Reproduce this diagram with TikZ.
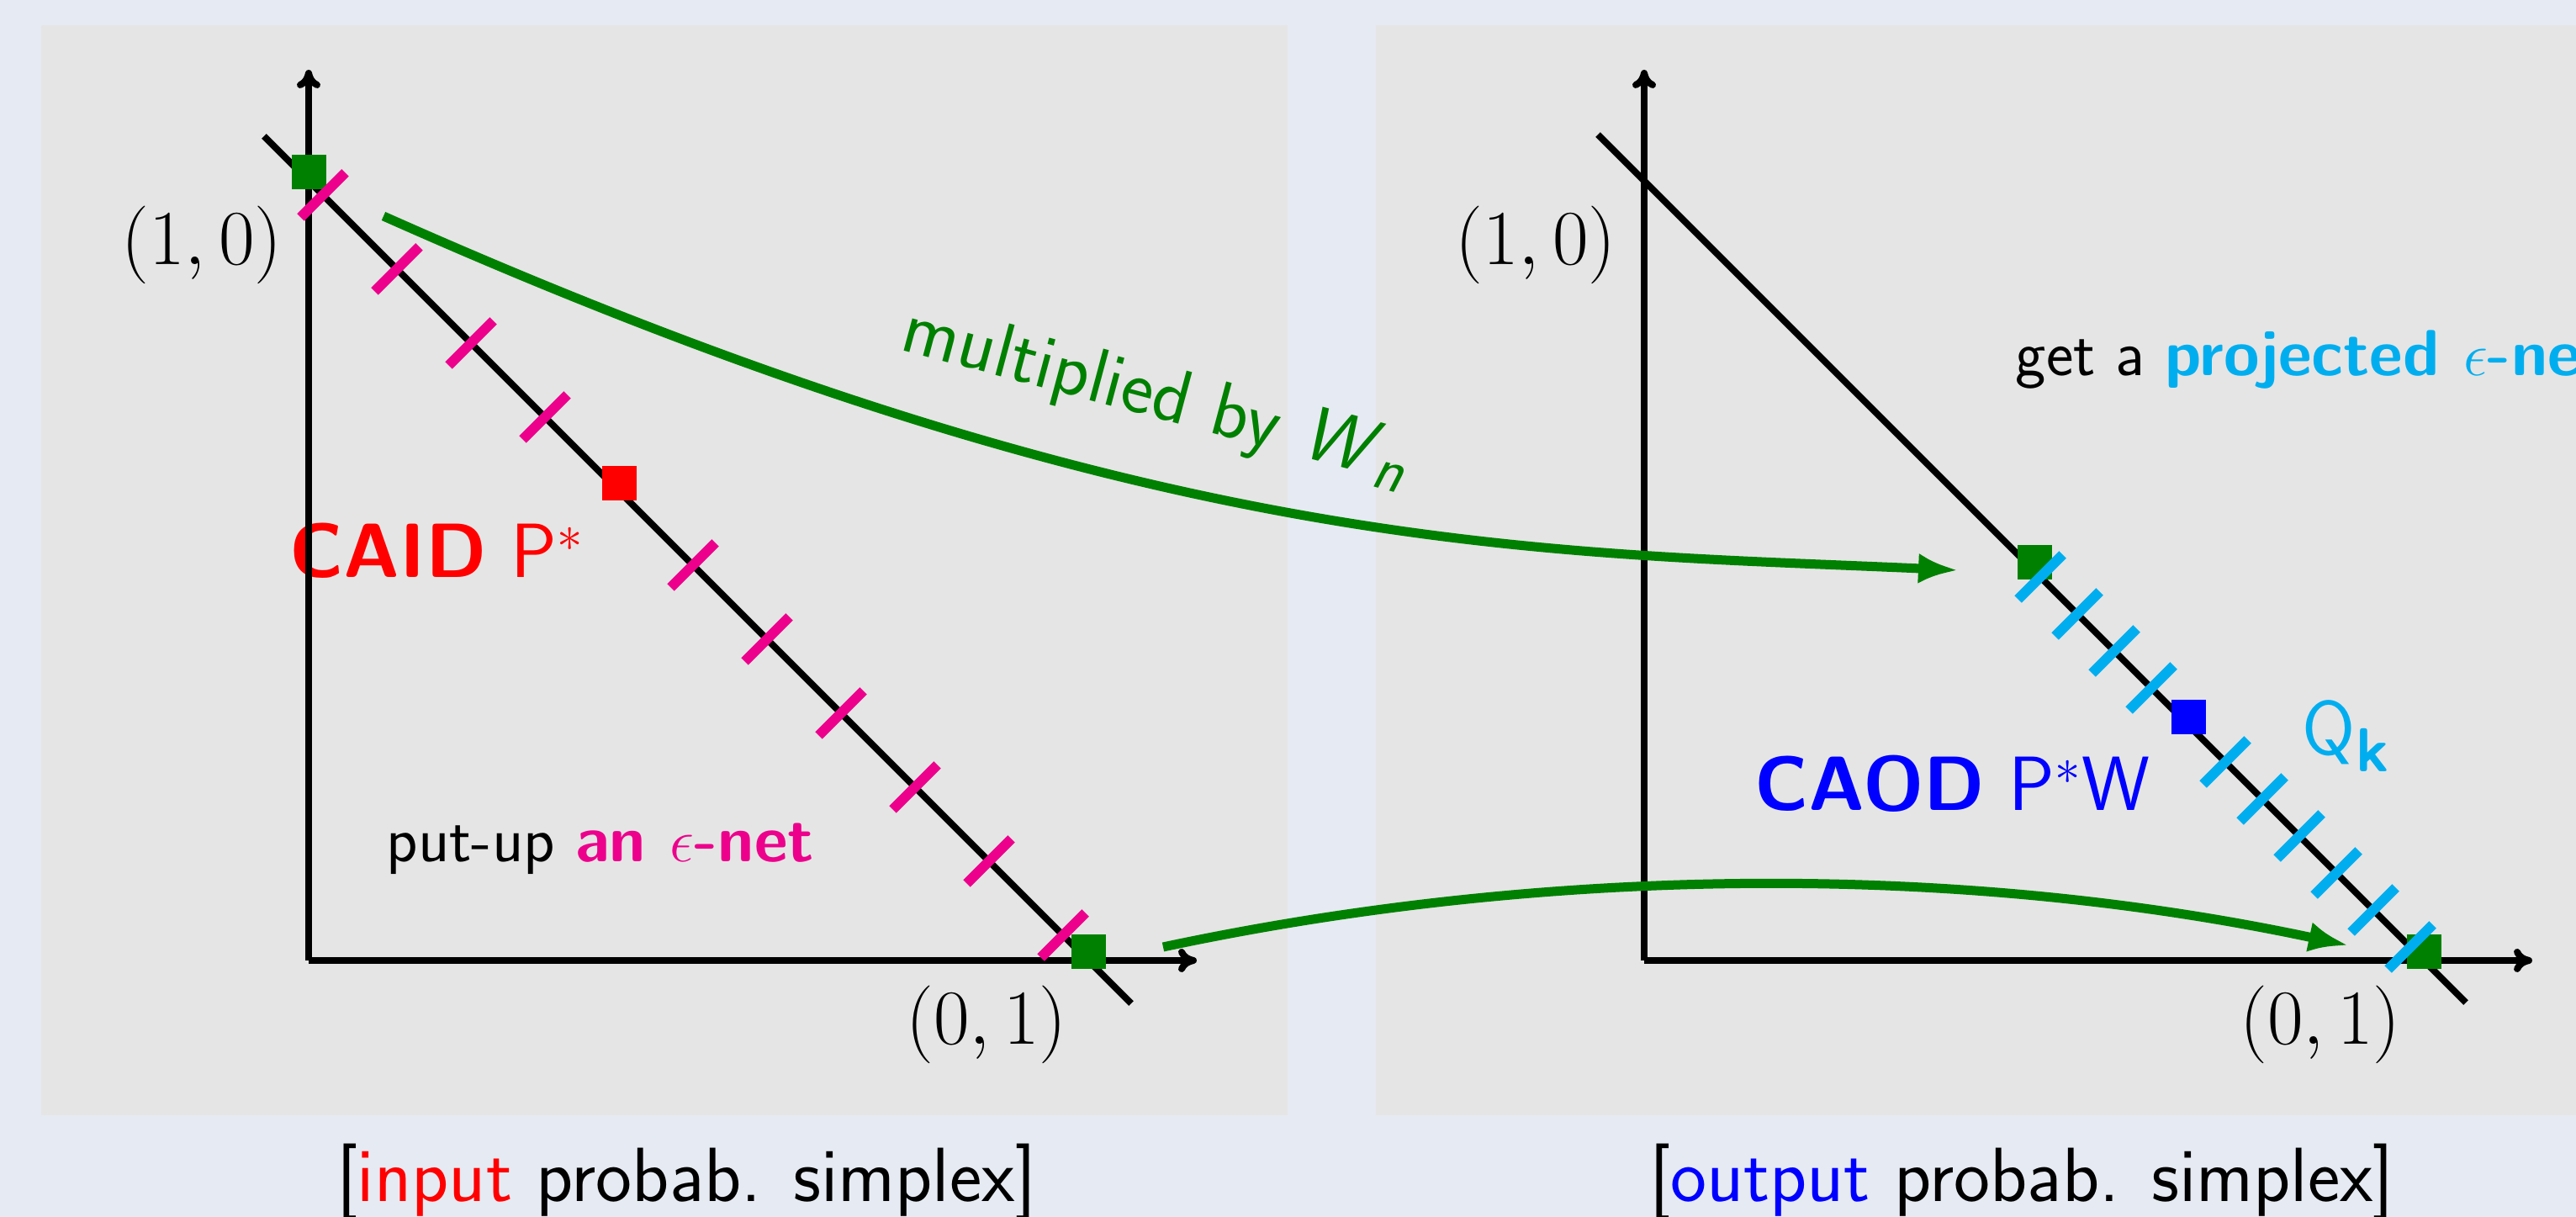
\documentclass[tikz,border=0pt]{standalone}
\usepackage{amsmath,amssymb}
\usepackage{graphicx}
\usepackage{xcolor}
\usepackage{tikz}
\usetikzlibrary{arrows.meta}
\usetikzlibrary{positioning}
\definecolor{fundo}{RGB}{230,234,242}
\definecolor{painel}{RGB}{229,229,229}
\definecolor{rede}{RGB}{236,0,140}
\definecolor{proj}{RGB}{0,174,239}
\definecolor{verde}{RGB}{0,128,0}
\tikzset{
  eixo/.style={-{To[length=0.22cm,width=0.28cm]}, line width=0.08cm},
  simplex/.style={line width=0.08cm},
  marca/.style={line width=0.12cm, draw=#1},
  ponto/.style={fill=#1, minimum size=0.41cm, inner sep=0pt},
  seta/.style={-{Latex[length=0.47cm,width=0.36cm]}, line width=0.11cm, verde},
  rotulo/.style={inner sep=0pt, font=\fontsize{26}{31}\selectfont\sffamily},
  texto/.style={inner sep=0pt, font=\fontsize{22}{26}\selectfont\sffamily},
}
\newcommand{\parcoord}[1]{\scalebox{1.06}{$#1$}}
\newcommand{\indice}[2]{\raisebox{#1}{\fontsize{21}{22}\selectfont #2}}

\begin{document}
\begin{tikzpicture}
  % fundo e paineis
  \fill[fundo] (0,0) rectangle (30.63,14.47);
  \useasboundingbox (0,0) rectangle (30.63,14.47);
  \fill[painel] (0.49,1.21) rectangle (15.31,14.17);
  \fill[painel] (16.36,1.21) rectangle (30.63,14.17);

  % textos
  \node[rotulo] (l10a) at (2.40,11.56) {\parcoord{(1,0)}};
  \node[rotulo] (l01a) at (11.73,2.29) {\parcoord{(0,1)}};
  \node[rotulo] (l10b) at (18.26,11.56) {\parcoord{(1,0)}};
  \node[rotulo] (l01b) at (27.59,2.29) {\parcoord{(0,1)}};
  \node[rotulo, anchor=base west, red] (caid) at (3.44,7.60) {\textbf{CAID} P$^*$};
  \node[texto, anchor=base west] (net) at (4.59,4.22) {put-up {\color{rede}\bfseries an $\epsilon$-net}};
  \node[rotulo, anchor=base west, blue] (caod) at (20.86,4.83) {\textbf{CAOD} P$^*$W};
  \node[rotulo, anchor=base west, proj] (qk) at (27.37,5.49) {Q\indice{-0.2cm}{\bfseries k}};
  \node[texto, anchor=base west] (pnet) at (23.96,10.00) {get a {\color{proj}\bfseries projected $\epsilon$-net}};
  \node[rotulo, verde, rotate=-15, anchor=base west] (mult) at (10.68,10.32) {multiplied by \textsl{W}\indice{-0.12cm}{\slshape n}};
  \node[rotulo, anchor=base] (cap1) at (8.16,0.18) {[\textcolor{red}{input} probab. simplex]};
  \node[rotulo, anchor=base] (cap2) at (24.04,0.18) {[\textcolor{blue}{output} probab. simplex]};

  % simplex de entrada
  \coordinate (o1) at (3.67,3.05);
  \coordinate (x1) at (14.23,3.05);
  \coordinate (y1) at (3.67,13.64);
  \draw[eixo] (o1) -- (x1);
  \draw[eixo] (o1) -- (y1);
  \coordinate (s1a) at (3.14,12.85);
  \coordinate (s1b) at (13.45,2.54);
  \draw[simplex] (s1a) -- (s1b);
  \node[ponto=verde] (p10) at (3.67,12.42) {};
  \node[ponto=verde] (p01) at (12.94,3.15) {};
  \node[ponto=red] (pstar) at (7.36,8.72) {};
  \foreach \i in {0,1,2,3,5,6,7,8,9,10}
    \draw[marca=rede] ({3.575+0.88*\i},{11.885-0.88*\i}) -- ++(0.53,0.53);

  % simplex de saida
  \coordinate (o2) at (19.55,3.05);
  \coordinate (x2) at (30.11,3.05);
  \coordinate (y2) at (19.55,13.64);
  \draw[eixo] (o2) -- (x2);
  \draw[eixo] (o2) -- (y2);
  \coordinate (s2a) at (19.00,12.87);
  \coordinate (s2b) at (29.32,2.55);
  \draw[simplex] (s2a) -- (s2b);
  \node[ponto=verde] (q10) at (24.19,7.78) {};
  \node[ponto=verde] (q01) at (28.82,3.15) {};
  \node[ponto=blue] (qstar) at (26.02,5.94) {};
  \foreach \i in {0,1,2,3,5,6,7,8,9,10}
    \draw[marca=proj] ({23.995+0.44*\i},{7.345-0.44*\i}) -- ++(0.53,0.53);

  % setas verdes
  \coordinate (m1) at (4.56,11.90);
  \coordinate (m2) at (23.28,7.69);
  \draw[seta] (m1) .. controls (13.70,7.83) and (18.29,7.915) .. (m2);
  \coordinate (n1) at (13.83,3.21);
  \coordinate (n2) at (27.92,3.23);
  \draw[seta] (n1) .. controls (18.43,4.19) and (23.32,4.21) .. (n2);
\end{tikzpicture}
\end{document}
